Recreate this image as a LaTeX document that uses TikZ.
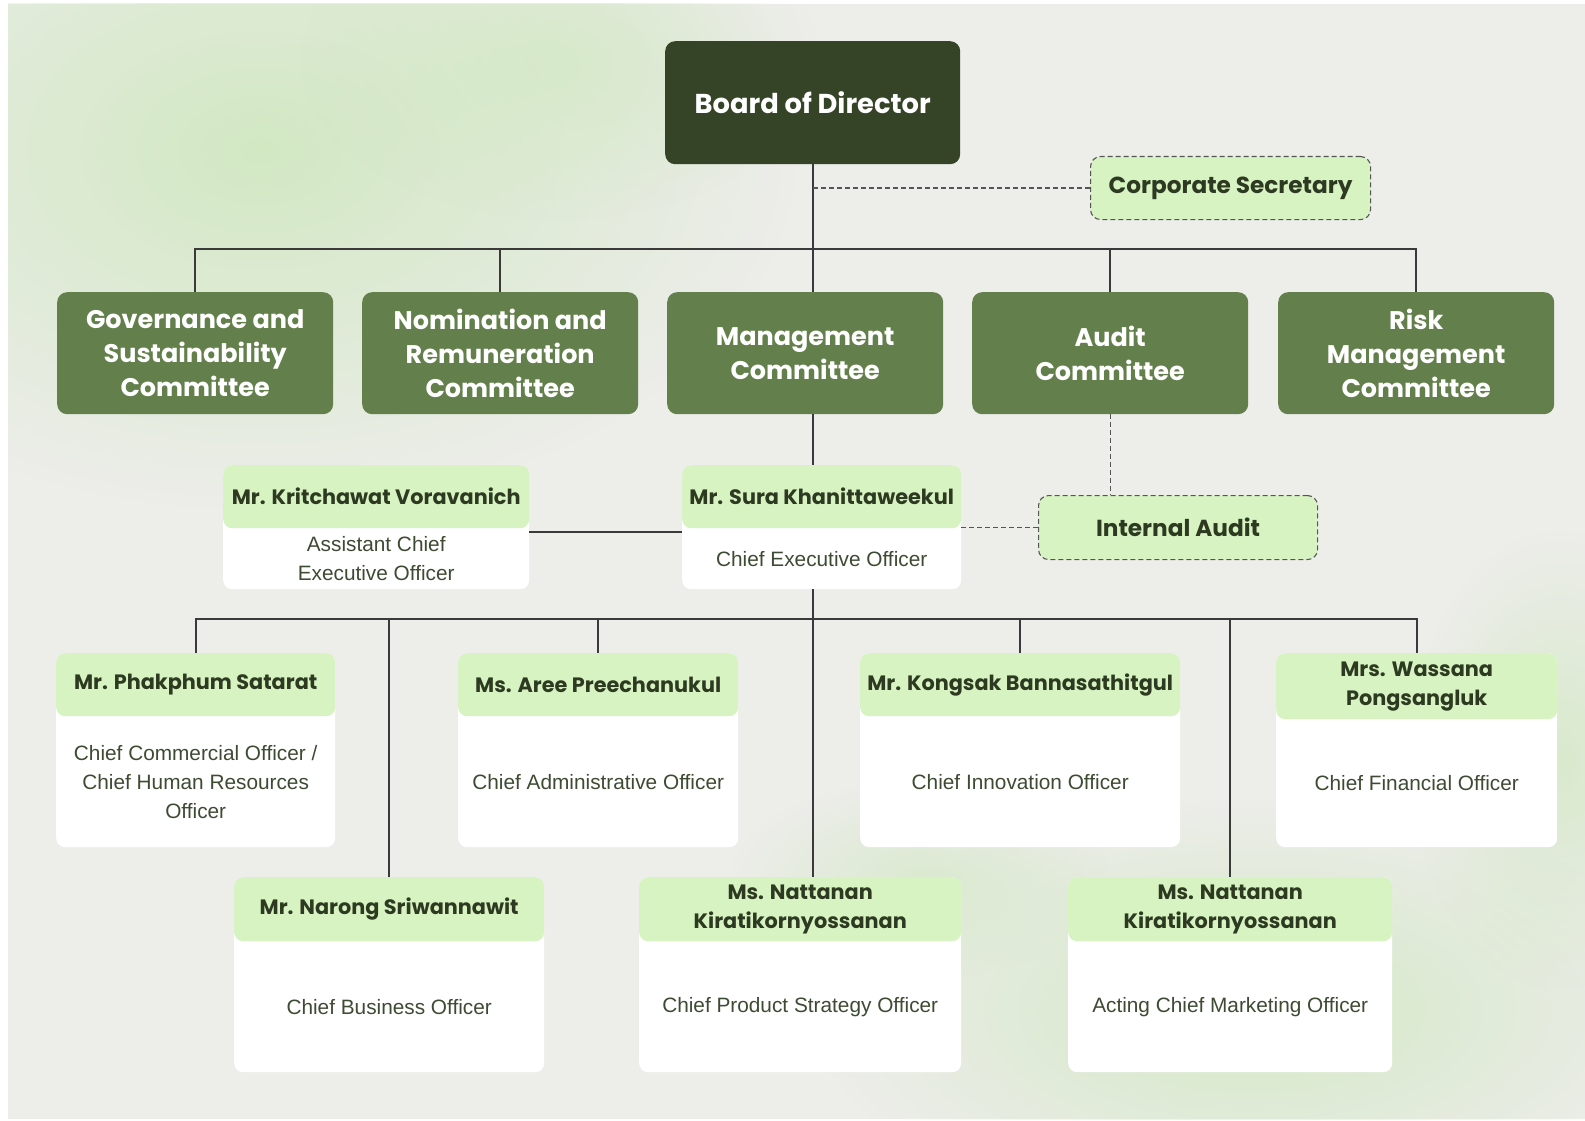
\documentclass[tikz,border=0pt]{standalone}
\usepackage{fontspec}
\setmainfont{Liberation Sans}
\newfontfamily\pop{Poppins}
\usetikzlibrary{fadings,calc}
\definecolor{bgcol}{HTML}{EDEDEA}
\definecolor{washgreen}{HTML}{CFE8BF}
\definecolor{boardc}{HTML}{354326}
\definecolor{commc}{HTML}{637F4B}
\definecolor{headc}{HTML}{D6F3C1}
\definecolor{namec}{HTML}{2D3A21}
\definecolor{descc}{HTML}{3E4B33}
\definecolor{linec}{HTML}{3A3A3A}
\definecolor{dashc}{HTML}{555555}
\tikzfading[name=fuzzy, inner color=transparent!0, outer color=transparent!100]
\tikzset{
  boardbox/.style={fill=boardc, rounded corners=10pt, inner sep=0pt, anchor=north west,
    text=white, align=center, font=\pop\bfseries\fontsize{27.3}{34}\selectfont},
  commbox/.style={fill=commc, rounded corners=10pt, inner sep=0pt, anchor=north west,
    minimum width=276pt, minimum height=122pt,
    text=white, align=center, font=\pop\bfseries\fontsize{25.5}{34}\selectfont},
  dashbox/.style={fill=headc, draw=dashc, dash pattern=on 5pt off 3pt, line width=1.1pt,
    rounded corners=10pt, inner sep=0pt, anchor=north west,
    text=namec, align=center, font=\pop\bfseries\fontsize{23.2}{30}\selectfont},
  pbody/.style={fill=white, rounded corners=9pt, inner sep=0pt, anchor=north west},
  phead/.style={fill=headc, rounded corners=9pt, inner sep=0pt, anchor=north west,
    text=namec, align=center, font=\pop\bfseries\fontsize{20.8}{29}\selectfont},
  pdesc/.style={text=descc, align=center, inner sep=0pt, font=\fontsize{20.8}{29}\selectfont},
  link/.style={draw=linec, line width=1.6pt},
  dashlink/.style={draw=dashc, line width=1.3pt, dash pattern=on 5pt off 3pt},
}
\begin{document}
\begin{tikzpicture}[x=1pt,y=-1pt]
\useasboundingbox (0,0) rectangle (1585,1121);
\fill[white] (0,0) rectangle (1585,1121);
\fill[bgcol] (8,4) rectangle (1585,1119);
\begin{scope}
\clip (8,4) rectangle (1585,1119);
\fill[washgreen, opacity=0.9, path fading=fuzzy] (260,150) ellipse (540pt and 360pt);
\fill[washgreen, opacity=0.6, path fading=fuzzy] (560,60) ellipse (260pt and 160pt);
\fill[washgreen, opacity=0.85, path fading=fuzzy] (1250,1010) ellipse (440pt and 210pt);
\fill[washgreen, opacity=0.7, path fading=fuzzy] (1560,760) ellipse (150pt and 230pt);
\fill[washgreen, opacity=0.6, path fading=fuzzy] (920,880) ellipse (190pt and 100pt);
\end{scope}

% Board and committees
\node[boardbox, minimum width=295pt, minimum height=123pt] (board) at (665,41) {Board of Director};
\node[dashbox, minimum width=280pt, minimum height=63pt] (corp) at (1090,156) {Corporate Secretary};

\node[commbox] (gov) at (57,292) {Governance and\\Sustainability\\Committee};
\node[commbox] (nom) at (362,292) {Nomination and\\Remuneration\\Committee};
\node[commbox] (mgmt) at (667,292) {Management\\Committee};
\node[commbox] (audit) at (972,292) {Audit\\Committee};
\node[commbox] (risk) at (1278,292) {Risk\\Management\\Committee};

% Row 2
\node[pbody, minimum width=306pt, minimum height=124pt] (kbody) at (223,465) {};
\node[phead, minimum width=306pt, minimum height=63pt] (khead) at (kbody.north west) {Mr. Kritchawat Voravanich};
\node[pdesc] (kdesc) at ($(khead.south)!0.5!(kbody.south)$) {Assistant Chief\\Executive Officer};

\node[pbody, minimum width=279pt, minimum height=124pt] (ceob) at (682,465) {};
\node[phead, minimum width=279pt, minimum height=63pt] (ceoh) at (ceob.north west) {Mr. Sura Khanittaweekul};
\node[pdesc] (ceod) at ($(ceoh.south)!0.5!(ceob.south)$) {Chief Executive Officer};

\node[dashbox, minimum width=279pt, minimum height=64pt] (ia) at (1038,495) {Internal Audit};

% Row 3
\node[pbody, minimum width=279pt, minimum height=194pt] (phak) at (56,653) {};
\node[phead, minimum width=279pt, minimum height=63pt] (phakh) at (phak.north west) {Mr. Phakphum Satarat};
\node[pdesc] (phakd) at ($(phakh.south)!0.5!(phak.south)$) {Chief Commercial Officer /\\Chief Human Resources\\Officer};

\node[pbody, minimum width=280pt, minimum height=194pt] (aree) at (458,653) {};
\node[phead, minimum width=280pt, minimum height=63pt] (areeh) at (aree.north west) {Ms. Aree Preechanukul};
\node[pdesc] (areed) at ($(areeh.south)!0.5!(aree.south)$) {Chief Administrative Officer};

\node[pbody, minimum width=320pt, minimum height=194pt] (kong) at (860,653) {};
\node[phead, minimum width=320pt, minimum height=63pt] (kongh) at (kong.north west) {Mr. Kongsak Bannasathitgul};
\node[pdesc] (kongd) at ($(kongh.south)!0.5!(kong.south)$) {Chief Innovation Officer};

\node[pbody, minimum width=281pt, minimum height=194pt] (wass) at (1276,653) {};
\node[phead, minimum width=281pt, minimum height=66pt] (wassh) at (wass.north west) {Mrs. Wassana\\Pongsangluk};
\node[pdesc] (wassd) at ($(wassh.south)!0.5!(wass.south)$) {Chief Financial Officer};

% Row 4
\node[pbody, minimum width=310pt, minimum height=195pt] (naro) at (234,877) {};
\node[phead, minimum width=310pt, minimum height=64pt] (naroh) at (naro.north west) {Mr. Narong Sriwannawit};
\node[pdesc] (narod) at ($(naroh.south)!0.5!(naro.south)$) {Chief Business Officer};

\node[pbody, minimum width=322pt, minimum height=195pt] (natm) at (639,877) {};
\node[phead, minimum width=322pt, minimum height=64pt] (natmh) at (natm.north west) {Ms. Nattanan\\Kiratikornyossanan};
\node[pdesc] (natmd) at ($(natmh.south)!0.5!(natm.south)$) {Chief Product Strategy Officer};

\node[pbody, minimum width=324pt, minimum height=195pt] (natr) at (1068,877) {};
\node[phead, minimum width=324pt, minimum height=64pt] (natrh) at (natr.north west) {Ms. Nattanan\\Kiratikornyossanan};
\node[pdesc] (natrd) at ($(natrh.south)!0.5!(natr.south)$) {Acting Chief Marketing Officer};

% Connectors
\coordinate (bus1) at (0,249);
\coordinate (bus2) at (0,619);
\draw[link] (gov.north) |- (risk.north |- bus1) -- (risk.north);
\draw[link] (nom.north) -- (nom.north |- bus1);
\draw[link] (audit.north) -- (audit.north |- bus1);
\draw[link] (board.south) -- (board.south |- mgmt.north);
\draw[dashlink] (corp.west) -- (corp.west -| board.south);
\draw[link] (board.south |- mgmt.south) -- (board.south |- ceob.north);
\draw[dashlink] (audit.south) -- (audit.south |- ia.north);
\draw[link] ([yshift=-5pt]kbody.east) -- ([yshift=-5pt]kbody.east -| ceob.west);
\draw[dashlink] (ia.west) -- (ia.west -| ceob.east);
\draw[link] (board.south |- ceob.south) -- (board.south |- natm.north);
\draw[link] (phak.north) |- (wass.north |- bus2) -- (wass.north);
\draw[link] (naro.north) -- (naro.north |- bus2);
\draw[link] (aree.north) -- (aree.north |- bus2);
\draw[link] (kong.north) -- (kong.north |- bus2);
\draw[link] (natr.north) -- (natr.north |- bus2);
\end{tikzpicture}
\end{document}
